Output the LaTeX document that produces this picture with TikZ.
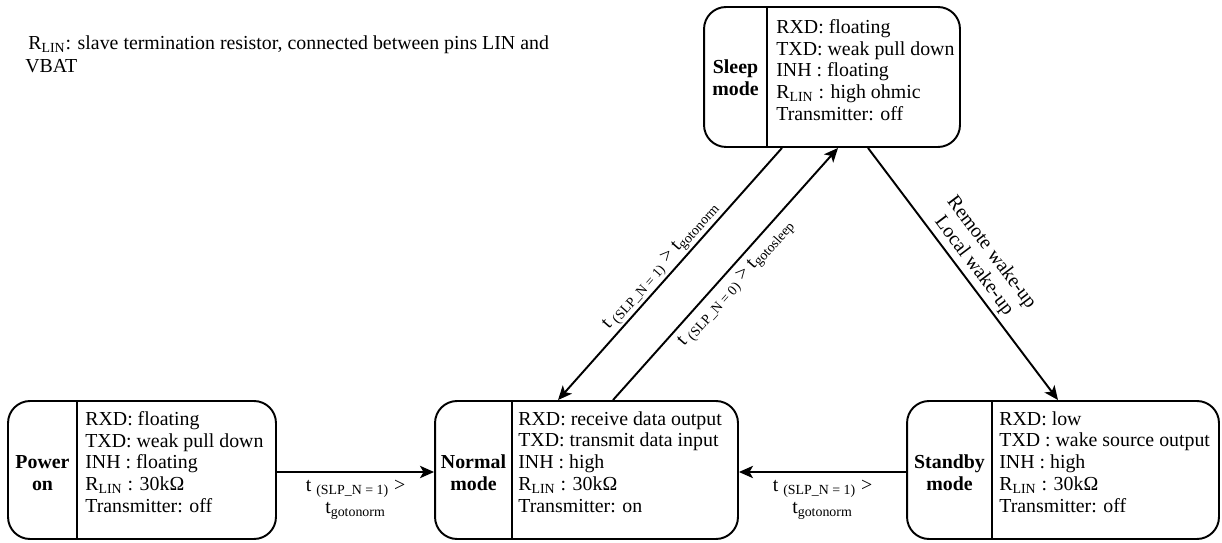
\documentclass[tikz,border=0pt]{standalone}
\usepackage{fontspec}
\setmainfont{Liberation Serif}
\usetikzlibrary{arrows.meta}

\begin{document}
\begin{tikzpicture}[x=0.02cm,y=-0.02cm,
    font=\fontsize{11.3}{12.4}\selectfont,
    modebox/.style={draw, line width=1.1pt, rounded corners=0.44cm, minimum height=2.76cm},
    modename/.style={align=center, inner sep=0pt, font=\fontsize{11.3}{12.4}\selectfont\bfseries},
    modelist/.style={anchor=west, align=left, inner sep=0pt},
    divider/.style={line width=0.6pt},
    trans/.style={line width=1.1pt, -{Stealth[length=8pt,width=7pt,inset=2pt]}},
    translabel/.style={align=center, inner sep=4pt}]
\useasboundingbox (0,0) rectangle (1222,543);

\node[anchor=north west, align=left, inner sep=0pt] (note) at (25,35)
  {\hspace*{1.7pt}R\textsubscript{LIN}: slave termination resistor, connected between pins LIN and\\[1pt]VBAT};

% sleep mode
\node[modebox, minimum width=5.12cm, minimum height=2.8cm] (sleep) at (832,77) {};
\node[modename] (sleepname) at (735.5,78) {Sleep\\mode};
\node[modelist] (sleeplist) at (776,70) {RXD: floating\\TXD: weak pull down\\INH : floating\\R\textsubscript{LIN} : high ohmic\\Transmitter: off};
\draw[divider] (767,0 |- sleep.north) -- (767,0 |- sleep.south);

% power on
\node[modebox, minimum width=5.36cm] (power) at (142,470) {};
\node[modename] (powername) at (42.5,473) {Power\\on};
\node[modelist] (powerlist) at (85,462) {RXD: floating\\TXD: weak pull down\\INH : floating\\R\textsubscript{LIN} : 30kΩ\\Transmitter: off};
\draw[divider] (77,0 |- power.north) -- (77,0 |- power.south);

% normal mode
\node[modebox, minimum width=6.06cm] (normal) at (586.5,470) {};
\node[modename] (normalname) at (473.5,473) {Normal\\mode};
\node[modelist] (normallist) at (518,462) {RXD: receive data output\\TXD: transmit data input\\INH : high\\R\textsubscript{LIN} : 30kΩ\\Transmitter: on};
\draw[divider] (512,0 |- normal.north) -- (512,0 |- normal.south);

% standby mode
\node[modebox, minimum width=6.24cm] (standby) at (1063,470) {};
\node[modename] (standbyname) at (949.5,473) {Standby\\mode};
\node[modelist] (standbylist) at (999,462) {RXD: low\\TXD : wake source output\\INH : high\\R\textsubscript{LIN} : 30kΩ\\Transmitter: off};
\draw[divider] (992,0 |- standby.north) -- (992,0 |- standby.south);

% transitions
\draw[trans] ([yshift=-0.04cm]power.east) -- ([yshift=-0.04cm]normal.west)
  node[translabel, midway, below] {t \textsubscript{(SLP\_N = 1)} >\\t\textsubscript{gotonorm}};
\draw[trans] ([yshift=-0.04cm]standby.west) -- ([yshift=-0.04cm]normal.east)
  node[translabel, midway, below] {t \textsubscript{(SLP\_N = 1)} >\\t\textsubscript{gotonorm}};
\draw[trans] ([xshift=-1cm]sleep.south) -- ([xshift=-0.57cm]normal.north)
  node[midway, sloped, above, inner sep=1pt] {t \textsubscript{(SLP\_N = 1)} > t\textsubscript{gotonorm}};
\draw[trans] ([xshift=0.53cm]normal.north) -- ([xshift=0.12cm]sleep.south)
  node[midway, sloped, below, inner sep=3pt] {t \textsubscript{(SLP\_N = 0)} > t\textsubscript{gotosleep}};
\draw[trans] ([xshift=0.72cm]sleep.south) -- ([xshift=-0.1cm]standby.north)
  node[midway, sloped, above, align=center, inner sep=2pt] {Remote wake-up\\Local wake-up};
\end{tikzpicture}
\end{document}
